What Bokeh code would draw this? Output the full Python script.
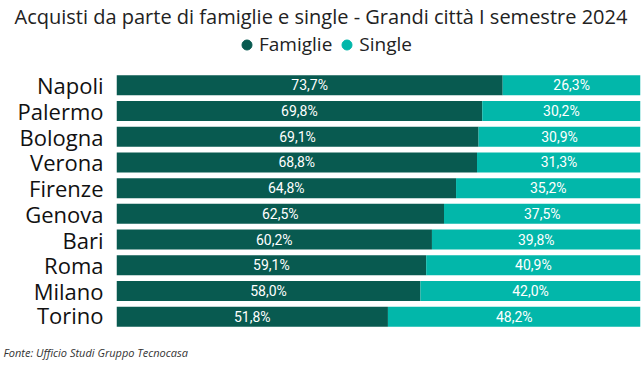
from bokeh.plotting import figure
from bokeh.layouts import column
from bokeh.models import ColumnDataSource, Legend, LegendItem, Range1d, LabelSet
from bokeh.embed import file_html
from bokeh.resources import INLINE
from bokeh.core.properties import value

cities = ["Napoli", "Palermo", "Bologna", "Verona", "Firenze", "Genova", "Bari", "Roma", "Milano", "Torino"]
famiglie = [73.7, 69.8, 69.1, 68.8, 64.8, 62.5, 60.2, 59.1, 58.0, 51.8]
single = [26.3, 30.2, 30.9, 31.3, 35.2, 37.5, 39.8, 40.9, 42.0, 48.2]
series = ["Famiglie", "Single"]
title_text = "Acquisti da parte di famiglie e single - Grandi città I semestre 2024"
source_text = "Fonte: Ufficio Studi Gruppo Tecnocasa"

DARK = "#085A50"
TEAL = "#02B7AA"

def fmt(v):
    return f"{v:.1f}%".replace(".", ",")

src = ColumnDataSource(dict(
    city=cities,
    fam=famiglie,
    sing=single,
    tot=[f + s for f, s in zip(famiglie, single)],
    fam_mid=[f / 2 for f in famiglie],
    sing_mid=[f + s / 2 for f, s in zip(famiglie, single)],
    fam_lab=[fmt(v) for v in famiglie],
    sing_lab=[fmt(v) for v in single],
))

W = 643
LEFT, RIGHT = 116, 3
HEAD_H, MAIN_H, FOOT_H = 62, 267, 38

# ---- header: title + legend ----
head = figure(width=W, height=HEAD_H, x_range=Range1d(0, 1), y_range=Range1d(0, 1),
              x_axis_type=None, y_axis_type=None, output_backend="svg",
              toolbar_location=None, min_border_left=LEFT, min_border_right=RIGHT,
              min_border_top=0, min_border_bottom=0)
head.outline_line_color = None
head.title.text = title_text
head.title.align = "left"
head.title.offset = 14 - LEFT
head.title.standoff = 0
head.title.text_font = "Open Sans"
head.title.text_font_size = "20px"
head.title.text_font_style = "normal"
head.title.text_color = "#222222"

nan = float("nan")
r1 = head.scatter(x=[nan], y=[nan], marker="circle", size=10, color=DARK)
r2 = head.scatter(x=[nan], y=[nan], marker="circle", size=10, color=TEAL)
legend = Legend(items=[LegendItem(label=series[0], renderers=[r1]),
                       LegendItem(label=series[1], renderers=[r2])],
                orientation="horizontal", location=(234 - LEFT, 5),
                label_text_font="Open Sans", label_text_font_size="19px",
                label_text_color="#222222", glyph_width=25, glyph_height=25,
                label_standoff=0, spacing=2, padding=0, margin=0,
                border_line_color=None, background_fill_alpha=0)
head.add_layout(legend, "center")

# ---- main bar chart ----
p = figure(width=W, height=MAIN_H, y_range=list(reversed(cities)),
           x_range=Range1d(0, 100), output_backend="svg", toolbar_location=None,
           min_border_left=LEFT, min_border_right=RIGHT, min_border_top=10,
           min_border_bottom=0)

p.hbar(y="city", left=0, right="fam", height=0.78, source=src, color=DARK, line_color=None)
p.hbar(y="city", left="fam", right="tot", height=0.78, source=src, color=TEAL, line_color=None)

for xcol, tcol in (("fam_mid", "fam_lab"), ("sing_mid", "sing_lab")):
    p.add_layout(LabelSet(x=xcol, y="city", text=tcol, source=src, text_color="white",
                          text_font=value("Roboto"), text_font_size="14px",
                          text_align="center", text_baseline="middle"))

p.xaxis.visible = False
p.yaxis.axis_line_color = None
p.yaxis.major_tick_line_color = None
p.yaxis.minor_tick_line_color = None
p.yaxis.major_label_text_font = "Open Sans"
p.yaxis.major_label_text_font_size = "22px"
p.yaxis.major_label_text_color = "#111111"
p.yaxis.major_label_standoff = 7
p.ygrid.grid_line_color = None
p.xgrid.grid_line_color = None
p.outline_line_color = None
p.y_range.range_padding = 0

# ---- footer: source ----
foot = figure(width=W, height=FOOT_H, x_range=Range1d(0, 1), y_range=Range1d(0, 1),
              x_axis_type=None, y_axis_type=None, output_backend="svg",
              toolbar_location=None, min_border_left=LEFT, min_border_right=RIGHT,
              min_border_top=30, min_border_bottom=0)
foot.outline_line_color = None
foot.title.text = source_text
foot.title.align = "left"
foot.title.offset = 3 - LEFT
foot.title.standoff = 0
foot.title.text_font = "Open Sans"
foot.title.text_font_size = "11px"
foot.title.text_font_style = "italic"
foot.title.text_color = "#333333"

layout = column(head, p, foot, spacing=0)
open("out.html", "w").write(file_html(layout, INLINE))
